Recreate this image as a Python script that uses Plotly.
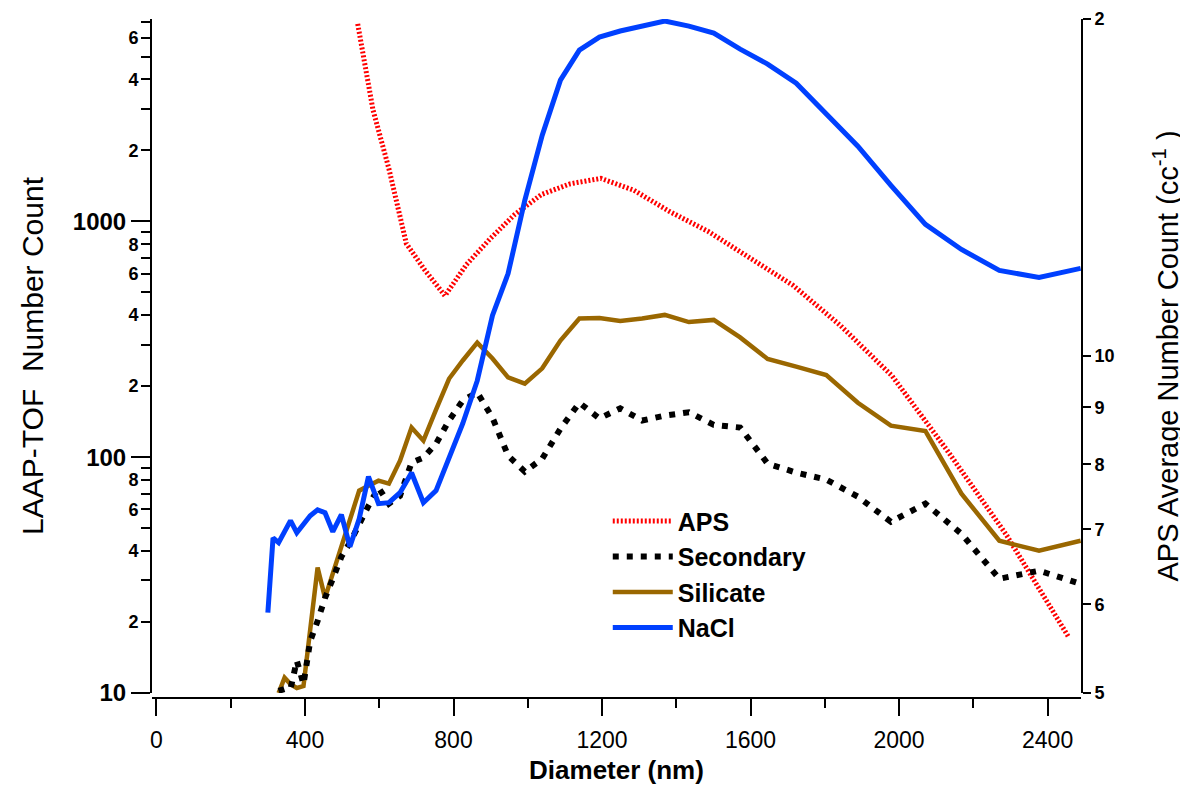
import plotly.graph_objects as go
import math

# ---------------- data ----------------
diam_laap = [300, 314, 329, 345, 361, 378, 396, 414, 434, 454, 475, 498, 521, 546, 571, 598,
             626, 656, 687, 719, 753, 788, 825, 864, 905, 947, 992, 1039, 1088, 1139, 1193,
             1249, 1308, 1369, 1434, 1501, 1572, 1646, 1723, 1804, 1889, 1978, 2071, 2168,
             2270, 2377, 2489]

nacl = [21.9, 45.5, 43.4, 48.3, 53.8, 47.8, 51.7, 56.4, 59.8, 58.1, 48.3, 57.0, 41.7, 54.8,
        82.7, 63.5, 64.1, 70.7, 85.9, 64.1, 72.1, 99.5, 139, 211, 399, 600, 1228, 2319, 3970,
        5323, 6043, 6411, 6730, 7070, 6730, 6285, 5375, 4643, 3855, 2874, 2082, 1422, 971,
        760, 619, 578, 632]

silicate = [None, None, 10.0, 11.6, 10.9, 10.5, 10.7, 19.1, 34.0, 25.3, 32.0, 41.7, 54.3, 72.1,
            75.7, 79.5, 77.2, 96.6, 133.5, 117.5, 159, 215, 257, 306, 262, 218, 205, 238, 312,
            387, 389, 378, 387, 401, 374, 382, 322, 261, 242, 223, 170, 136, 129, 70, 44.2,
            40.1, 44.2]

secondary = [None, None, 10.2, 10.4, 10.4, 13.7, 10.9, 16.6, 20.2, 25.3, 30.5, 37.8, 43.4, 52.7,
             62.2, 74.2, 63.5, 68.6, 94.8, 99.5, 114, 143, 174, 188, 147, 101.5, 86.8, 98.5,
             132, 170, 146, 161, 143, 150, 155, 137, 133.5, 93.9, 86, 80.3, 68, 53.2, 63.5,
             47.3, 30.5, 33.0, 29.0]

diam_aps = [542, 583, 626, 673, 723, 777, 835, 898, 965, 1037, 1114, 1197, 1286, 1382, 1486,
            1596, 1715, 1843, 1981, 2129, 2288, 2458]
aps = [19.8, 16.6, 14.7, 12.6, 11.93, 11.32, 12.07, 12.72, 13.38, 13.94, 14.25, 14.41, 14.06,
       13.46, 12.92, 12.25, 11.56, 10.64, 9.6, 8.24, 6.93, 5.6]

# tick labels
x_tickvals = [0, 400, 800, 1200, 1600, 2000, 2400]
left_major_vals = [10, 100, 1000]
left_major_text = ["10", "100", "1000"]
left_minor_vals = [20, 40, 60, 80, 200, 400, 600, 800, 2000, 4000, 6000]
left_minor_text = ["2", "4", "6", "8", "2", "4", "6", "8", "2", "4", "6"]
right_tickvals = [5, 6, 7, 8, 9, 10, 20]
right_ticktext = ["5", "6", "7", "8", "9", "10", "2"]

# ---------------- styles ----------------
FONT = "Liberation Sans, Arial, sans-serif"
LEFT_RANGE = [1, 3.858]
RIGHT_RANGE = [math.log10(5), math.log10(20)]

fig = go.Figure()

fig.add_trace(go.Scatter(x=diam_aps, y=aps, name="APS", mode="lines", yaxis="y",
                         line=dict(color="#FF0000", width=5, dash="2px,2px"), legendrank=1))
fig.add_trace(go.Scatter(x=diam_laap, y=silicate, name="Silicate", mode="lines", yaxis="y2",
                         line=dict(color="#9A6700", width=4.5), legendrank=3))
fig.add_trace(go.Scatter(x=diam_laap, y=secondary, name="Secondary", mode="lines", yaxis="y2",
                         line=dict(color="#000000", width=6, dash="6px,8px"), legendrank=2))
fig.add_trace(go.Scatter(x=diam_laap, y=nacl, name="NaCl", mode="lines", yaxis="y2",
                         line=dict(color="#0040FF", width=5), legendrank=4))
# carrier for the labelled minor-tick axis (no visible marks)
fig.add_trace(go.Scatter(x=[None], y=[None], yaxis="y3", showlegend=False,
                         hoverinfo="skip", mode="lines"))

common_y = dict(showgrid=False, zeroline=False, automargin=False, tickcolor="black",
                ticks="outside", tickwidth=2)

fig.update_layout(
    width=1188, height=792,
    paper_bgcolor="white", plot_bgcolor="white",
    margin=dict(l=144, r=115, t=11, b=102, autoexpand=False),
    font=dict(family=FONT, color="black"),
    showlegend=True,
    legend=dict(x=0.4906, y=0.294, xanchor="left", yanchor="top",
                bgcolor="rgba(0,0,0,0)", font=dict(size=25, family=FONT, weight="bold"),
                tracegroupgap=0, itemwidth=60),
    xaxis=dict(
        range=[-12, 2490], tickmode="array", tickvals=x_tickvals,
        ticks="outside", ticklen=17, tickwidth=2, tickcolor="black",
        minor=dict(dtick=200, tick0=0, ticks="outside", ticklen=9, tickwidth=2, tickcolor="black"),
        showline=True, linewidth=2, linecolor="black", showgrid=False, zeroline=False,
        tickfont=dict(size=23), automargin=False, ticklabelstandoff=4,
        title=dict(text="Diameter (nm)", font=dict(size=26, weight="bold"), standoff=8),
        anchor="free", position=0,
    ),
    yaxis=dict(
        type="log", range=RIGHT_RANGE, side="right",
        domain=[0.0074, 1], anchor="x",
        tickmode="array", tickvals=right_tickvals, ticktext=right_ticktext, ticklen=8,
        showline=True, linewidth=2, linecolor="black",
        tickfont=dict(size=18, weight="bold"),
        title=dict(text="APS Average Number Count (cc<sup>-1</sup> )", font=dict(size=29), standoff=44),
        **common_y,
    ),
    yaxis2=dict(
        type="log", range=LEFT_RANGE, side="left", overlaying="y", anchor="x",
        tickmode="array", tickvals=left_major_vals, ticktext=left_major_text, ticklen=19,
        minor=dict(dtick="D1", ticks="outside", ticklen=9, tickwidth=2, tickcolor="black"),
        showline=True, linewidth=2, linecolor="black",
        tickfont=dict(size=24, weight="bold"),
        title=dict(text="LAAP-TOF  Number Count", font=dict(size=30), standoff=20),
        **common_y,
    ),
    yaxis3=dict(
        type="log", range=LEFT_RANGE, side="left", overlaying="y", anchor="x",
        tickmode="array", tickvals=left_minor_vals, ticktext=left_minor_text, ticklen=9,
        showline=False, tickfont=dict(size=18, weight="bold"),
        **common_y,
    ),
)

fig.write_html("out.html")
